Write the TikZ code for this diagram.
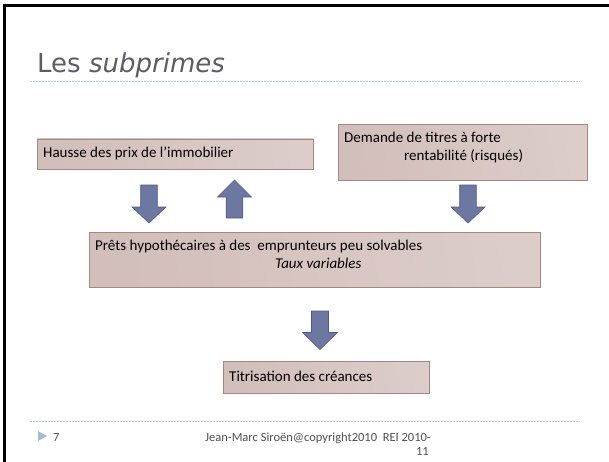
\documentclass[tikz,border=0pt]{standalone}
\usepackage{fontspec}
\setmainfont{Carlito}
\newfontfamily\titlefont{DejaVu Sans}
\definecolor{boxA}{RGB}{210,190,186}
\definecolor{boxM}{RGB}{197,171,165}
\definecolor{boxB}{RGB}{220,205,202}
\definecolor{boxLine}{RGB}{165,135,129}
\definecolor{arrFill}{RGB}{108,120,162}
\definecolor{arrLine}{RGB}{78,90,135}
\definecolor{dotBlue}{RGB}{180,202,224}
\definecolor{triBlue}{RGB}{160,188,215}
\definecolor{titleGray}{RGB}{92,92,104}
\definecolor{footGray}{RGB}{80,80,80}
\tikzset{
  boxnode/.style={draw=boxLine, line width=0.8pt, left color=boxA, middle color=boxM, right color=boxB, shading angle=100, anchor=north west, inner sep=0pt},
  txt/.style={anchor=base west, inner sep=0pt, font=\fontsize{15}{18}\selectfont, text=black},
  arrowshape/.style={draw=arrLine, fill=arrFill, line width=0.6pt, line join=miter},
  pics/downarr/.style={code={
    \draw[arrowshape] (-8.3,0) -- (8.3,0) -- (8.3,22) -- (17,22) -- (0,38) -- (-17,22) -- (-8.3,22) -- cycle;}},
  pics/uparr/.style={code={
    \draw[arrowshape] (-8.3,38) -- (8.3,38) -- (8.3,17) -- (17,17) -- (0,0) -- (-17,17) -- (-8.3,17) -- cycle;}},
  pics/bigdownarr/.style={code={
    \draw[arrowshape] (-8.5,0) -- (8.5,0) -- (8.5,21.5) -- (17.5,21.5) -- (0,38.5) -- (-17.5,21.5) -- (-8.5,21.5) -- cycle;}},
  footer/.style={inner sep=0pt, font=\fontsize{12.5}{14}\selectfont, text=footGray}
}
\begin{document}
\begin{tikzpicture}[x=1pt,y=-1pt]
\useasboundingbox (0,0) rectangle (609,461);
\fill[white] (0,0) rectangle (609,461);
% slide frame
\draw[line width=3pt] (4,462) -- (4,5.5) -- (610,5.5);
% title
\node[anchor=base west, inner sep=0pt, font=\titlefont\fontsize{26}{30}\selectfont, text=titleGray] (title) at (37,72) {Les \textit{subprimes}};
\draw[dotBlue, dash pattern=on 1.5pt off 1.5pt, line width=0.8pt] (30,81) -- (580,81);
% boxes
\node[boxnode, minimum width=276pt, minimum height=30.5pt] (hausse) at (37,138.5) {};
\node[txt] (hausseT) at (43,157) {Hausse des prix de l’immobilier};
\node[boxnode, minimum width=249pt, minimum height=56pt] (demande) at (338,124) {};
\node[txt] (demT1) at (344,142.5) {Demande de titres à forte};
\node[txt] (demT2) at (404,160.5) {rentabilité (risqués)};
\node[boxnode, minimum width=451pt, minimum height=55pt] (prets) at (89,232) {};
\node[txt] (pretsT1) at (95,250.5) {Prêts hypothécaires à des \ emprunteurs peu solvables};
\node[txt, font=\fontsize{15}{18}\selectfont\itshape] (pretsT2) at (275,268.5) {Taux variables};
\node[boxnode, minimum width=206pt, minimum height=32pt] (titri) at (223,361) {};
\node[txt] (titriT) at (229,381) {Titrisation des créances};
% block arrows
\coordinate (a1) at (149,185);
\coordinate (a2) at (234.5,180);
\coordinate (a3) at (468,185);
\coordinate (a4) at (320,311);
\pic at (a1) {downarr};
\pic at (a2) {uparr};
\pic at (a3) {downarr};
\pic at (a4) {bigdownarr};
% footer
\draw[dotBlue, dash pattern=on 1.5pt off 1.5pt, line width=0.8pt] (30,421) -- (580,421);
\fill[triBlue] (38,431) -- (47,436) -- (38,441) -- cycle;
\node[footer, anchor=base west] (pnum) at (53,441) {7};
\node[footer, anchor=base east] (foot1) at (431,441) {Jean-Marc Siroën@copyright2010 \ REI 2010-};
\node[footer, anchor=base east] (foot2) at (429,455) {11};
\end{tikzpicture}
\end{document}
